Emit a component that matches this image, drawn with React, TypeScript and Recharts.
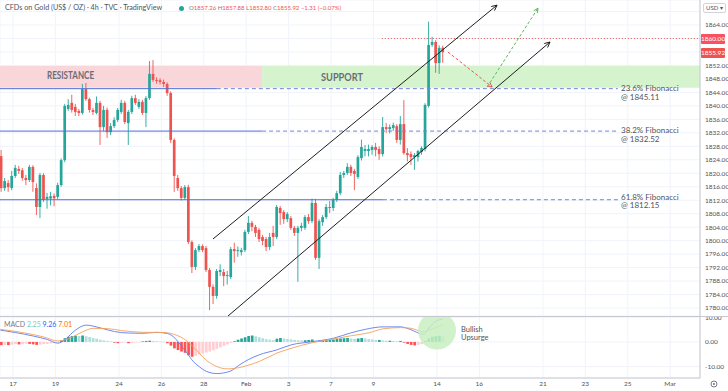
import React from 'react';
import {
  ComposedChart,
  Bar,
  Line,
  XAxis,
  YAxis,
  CartesianGrid,
  ReferenceLine,
  ReferenceArea,
  ReferenceDot,
} from 'recharts';

// bar index of the first candle (0 = first bar of Jan 17)
const FIRST_BAR = -4;

// [open, high, low, close], one per 4h bar
const candles: [number, number, number, number][] = [
  [1825.1, 1826.9, 1814.5, 1815.6], [1815.6, 1818.6, 1814.8, 1817.7], [1817.1, 1818.0, 1814.5, 1815.9],
  [1815.6, 1820.7, 1815.0, 1819.2], [1819.2, 1822.5, 1818.6, 1821.6], [1821.3, 1822.2, 1819.8, 1820.7],
  [1820.9, 1821.6, 1817.8, 1818.6], [1818.6, 1819.5, 1816.5, 1818.0], [1818.0, 1822.5, 1817.4, 1821.9],
  [1821.9, 1822.4, 1814.5, 1817.4], [1815.6, 1817.0, 1807.6, 1810.0], [1810.0, 1820.1, 1806.7, 1819.5],
  [1819.5, 1820.0, 1811.5, 1812.1], [1812.4, 1814.2, 1809.5, 1813.0], [1812.5, 1814.5, 1810.5, 1813.2],
  [1813.3, 1814.0, 1810.2, 1812.6], [1813.0, 1817.2, 1812.3, 1816.5], [1816.5, 1824.4, 1816.0, 1823.9],
  [1823.9, 1840.6, 1823.3, 1840.0], [1839.1, 1842.0, 1838.5, 1840.3], [1840.9, 1843.3, 1838.0, 1838.8],
  [1839.7, 1840.6, 1837.0, 1838.2], [1838.5, 1839.1, 1837.0, 1837.9], [1837.9, 1846.5, 1837.4, 1845.0],
  [1845.0, 1846.8, 1841.5, 1842.0], [1842.0, 1842.4, 1838.0, 1838.8], [1838.8, 1839.4, 1837.3, 1838.2],
  [1837.9, 1842.8, 1837.5, 1840.9], [1840.9, 1841.5, 1828.4, 1833.7], [1833.7, 1840.0, 1832.5, 1838.8],
  [1838.8, 1839.5, 1830.5, 1832.2], [1832.2, 1834.9, 1831.3, 1834.0], [1834.0, 1836.6, 1833.4, 1835.8],
  [1835.8, 1839.4, 1835.2, 1838.8], [1838.2, 1841.8, 1837.6, 1840.9], [1840.9, 1841.5, 1834.6, 1835.2],
  [1834.9, 1838.8, 1828.4, 1838.2], [1838.2, 1843.0, 1837.6, 1842.3], [1842.3, 1843.3, 1840.3, 1840.9],
  [1839.7, 1842.0, 1839.1, 1841.2], [1841.2, 1841.8, 1837.3, 1837.9], [1837.9, 1842.9, 1833.7, 1842.3],
  [1842.3, 1853.3, 1841.8, 1849.5], [1849.5, 1853.6, 1847.1, 1847.7], [1847.7, 1848.5, 1846.6, 1847.4],
  [1847.6, 1848.2, 1846.4, 1847.1], [1847.1, 1847.8, 1845.6, 1846.5], [1846.5, 1847.0, 1843.0, 1843.8],
  [1843.8, 1844.3, 1829.0, 1829.9], [1829.9, 1830.4, 1814.5, 1819.2], [1818.6, 1819.5, 1814.8, 1815.6],
  [1815.6, 1816.2, 1811.9, 1812.7], [1812.7, 1816.5, 1812.1, 1815.9], [1815.9, 1816.6, 1799.0, 1799.6],
  [1799.6, 1800.1, 1790.4, 1792.2], [1792.2, 1797.8, 1791.3, 1797.2], [1797.2, 1799.0, 1796.6, 1798.4],
  [1798.4, 1798.9, 1796.6, 1797.2], [1797.8, 1798.4, 1790.7, 1791.3], [1791.3, 1791.9, 1779.4, 1786.3],
  [1786.3, 1787.0, 1781.2, 1783.6], [1783.6, 1791.6, 1782.8, 1791.0], [1790.7, 1793.0, 1789.5, 1791.3],
  [1790.7, 1791.6, 1786.5, 1789.5], [1789.5, 1791.0, 1787.0, 1789.8], [1789.2, 1798.1, 1788.6, 1797.5],
  [1797.5, 1799.4, 1793.5, 1796.9], [1796.9, 1798.3, 1795.2, 1797.2], [1796.6, 1797.9, 1795.6, 1797.2],
  [1797.2, 1803.2, 1796.6, 1802.6], [1802.6, 1807.3, 1802.0, 1805.3], [1805.3, 1805.9, 1802.8, 1804.1],
  [1804.1, 1804.7, 1801.1, 1802.3], [1803.2, 1803.8, 1799.6, 1800.5], [1801.1, 1801.7, 1798.7, 1799.9],
  [1800.5, 1801.1, 1796.9, 1798.1], [1798.1, 1802.3, 1797.2, 1801.1], [1802.3, 1804.4, 1798.4, 1801.1],
  [1801.1, 1810.6, 1800.5, 1810.0], [1809.7, 1810.3, 1804.7, 1808.2], [1808.5, 1809.1, 1805.0, 1806.4],
  [1806.4, 1808.5, 1805.5, 1807.9], [1806.7, 1807.3, 1803.2, 1803.8], [1803.8, 1804.4, 1801.4, 1802.3],
  [1802.3, 1804.4, 1787.8, 1803.8], [1803.8, 1805.3, 1802.8, 1804.4], [1803.8, 1807.6, 1803.2, 1807.0],
  [1807.0, 1807.9, 1805.0, 1805.8], [1805.8, 1812.5, 1805.2, 1811.2], [1811.2, 1812.4, 1794.3, 1794.9],
  [1794.9, 1806.4, 1791.6, 1805.8], [1805.5, 1807.6, 1804.4, 1807.0], [1807.0, 1810.9, 1806.4, 1810.0],
  [1810.0, 1811.8, 1808.2, 1809.7], [1809.7, 1812.7, 1808.8, 1812.1], [1812.1, 1814.8, 1811.5, 1814.1],
  [1814.1, 1820.4, 1813.5, 1819.5], [1819.5, 1820.7, 1818.6, 1820.1], [1820.1, 1823.0, 1819.5, 1821.9],
  [1821.9, 1822.5, 1819.2, 1820.1], [1820.7, 1821.3, 1815.0, 1819.8], [1818.9, 1825.4, 1818.3, 1824.8],
  [1824.5, 1830.0, 1823.8, 1827.8], [1826.6, 1828.4, 1825.0, 1827.2], [1826.6, 1828.5, 1825.0, 1827.2],
  [1826.9, 1828.4, 1825.5, 1827.8], [1827.8, 1829.0, 1825.0, 1826.9], [1827.2, 1828.0, 1824.0, 1825.7],
  [1825.7, 1836.7, 1825.0, 1833.7], [1833.7, 1834.9, 1832.0, 1833.1], [1833.1, 1834.5, 1831.8, 1833.7],
  [1833.4, 1835.0, 1832.5, 1834.3], [1834.0, 1834.6, 1829.0, 1829.9], [1829.9, 1837.0, 1828.5, 1834.6],
  [1834.6, 1841.7, 1825.5, 1826.0], [1826.0, 1827.5, 1823.5, 1825.4], [1825.7, 1826.5, 1822.5, 1824.8],
  [1824.8, 1826.0, 1821.0, 1825.4], [1824.8, 1827.0, 1823.5, 1826.6], [1826.3, 1828.0, 1825.5, 1827.5],
  [1827.2, 1840.8, 1826.5, 1840.3], [1840.0, 1865.0, 1839.5, 1858.1], [1858.1, 1860.5, 1857.5, 1858.96],
  [1858.96, 1859.5, 1849.8, 1852.7], [1852.7, 1858.0, 1849.5, 1857.23], [1857.26, 1857.88, 1852.8, 1855.92],
];

// MACD histogram, one per bar
const macdHist = [
  -1.3, -1.2, -1.3, -1.1, -0.9, -1.0, -0.9, -0.7, -0.8, -1.0, -1.2, -1.1, -0.9, -0.8, -0.6, -0.4, -0.2,
  0.6, 1.5, 2.1, 2.4, 2.5, 2.4, 2.6, 2.3, 2.0, 1.6, 1.3, 0.9, 0.6, 0.4, 0.2, -0.3, -0.5, -0.3,
  -0.2, -0.5, -0.4, -0.2, -0.1, 0.2, 0.4, 0.5, 0.4, 0.3, 0.2, 0.1,
  -0.5, -1.5, -2.6, -3.3, -3.9, -4.4, -5.4, -6.0,
  -5.6, -5.1, -4.7, -4.3, -3.9, -3.4, -2.8, -2.2, -1.6, -1.0, -0.4,
  0.3, 0.9, 1.4, 1.9, 2.4, 2.6, 2.3, 1.9, 1.5, 1.1, 0.9, 0.7,
  1.3, 1.6, 1.4, 1.2, 1.0, 0.8, 0.7, 0.6, 0.7, 0.8, 1.0, 0.4, 0.5, 0.6, 0.7, 0.8, 1.0,
  1.2, 1.4, 1.5, 1.6, 1.4, 1.2, 1.4, 1.6, 1.4, 1.2, 1.0, 0.8,
  0.8, 0.6, 0.5, 0.5, 0.4, 0.3, 0.4,
  -0.3, -0.8, -1.2, -1.4, -1.2, -0.9,
  0.4, 1.4, 2.1, 2.4, 2.5, 2.25,
];

// [bar, value]
const macdLine: [number, number][] = [
  [-4.3, 4.8], [0, 3.8], [5, 2.4], [9, 1.0], [12, -0.5], [14, 0.9], [16, 3.6], [18, 5.8], [20, 6.8],
  [22, 6.4], [24, 5.7], [28, 4.2], [32, 3.6], [36, 3.5], [40, 3.9], [43, 3.4], [44.7, 2.1], [46.5, -0.8],
  [48.5, -4.4], [50.3, -7.9], [52, -10.0], [54, -11.9], [57, -12.8], [60.7, -11.9], [63.5, -9.2],
  [66, -7.1], [69, -5.2], [74, -3.2], [78, -1.2], [84, 0.1], [90, 1.5], [95, 3.7], [99, 5.1],
  [104, 6.1], [109, 6.1], [111.7, 5.1], [115.4, 3.1], [117.3, 6.1], [119.2, 8.5], [121, 9.26],
];
const signalLine: [number, number][] = [
  [-4.3, 5.1], [2, 3.8], [8, 2.0], [12, 0.4], [15, 1.3], [18, 3.4], [22, 5.5], [26, 5.4], [30, 4.6],
  [36, 3.9], [42, 3.8], [45, 3.0], [47.5, 1.4], [50, -1.5], [54, -7.4], [57, -10.0], [60, -10.9],
  [62, -10.7], [65, -9.8], [69, -7.9], [74, -4.5], [78, -2.6], [84, -0.3], [90, 1.2], [95, 2.5],
  [100, 3.7], [104, 5.3], [109, 5.8], [112, 5.5], [115.4, 4.1], [118, 5.3], [121, 7.01],
];

// trading-day offset from Jan 17 and its label
const dateTicks: [number, string][] = [
  [0, '17'], [2, '19'], [5, '24'], [7, '26'], [9, '28'], [11, 'Feb'], [13, '3'], [15, '7'],
  [17, '9'], [20, '14'], [22, '16'], [25, '21'], [27, '23'], [29, '25'], [31, 'Mar'],
];
const priceTicks = [
  1780, 1784, 1788, 1792, 1796, 1800, 1804, 1808, 1812, 1816, 1820, 1824, 1828, 1832, 1836, 1840,
  1844, 1848, 1852, 1856, 1860, 1864, 1868,
];
// ticks whose label sits under the price boxes
const coveredTicks = [1856, 1860, 1868];
const fibLevels = [
  { price: 1845.11, name: '23.6% Fibonacci', solidTo: 57 },
  { price: 1832.52, name: '38.2% Fibonacci', solidTo: 69.8 },
  { price: 1812.15, name: '61.8% Fibonacci', solidTo: 104 },
];

const X_MIN = -4.387;
const X_MAX = 193.75;
const FIB_END = 170.5;
const P_MIN = 1777.65;
const P_MAX = 1871.42;
const PX_PER_BAR = 700 / (X_MAX - X_MIN);
const PX_PER_USD = 316 / (P_MAX - P_MIN);
const UP = '#26a69a';
const DOWN = '#ef5350';
const FONT = "Lato, 'Open Sans', sans-serif";
const TEXT = '#50535e';

type Pt = { x: number; y: number };
const channelUpper: [Pt, Pt] = [{ x: 55.9, y: 1800.5 }, { x: 136.3, y: 1869.9 }];
const channelLower: [Pt, Pt] = [{ x: 60.15, y: 1777.65 }, { x: 151.3, y: 1858.96 }];
const pathDown: [Pt, Pt] = [{ x: 122.4, y: 1856.0 }, { x: 134.9, y: 1845.6 }];
const pathUp: [Pt, Pt] = [{ x: 133.5, y: 1845.6 }, { x: 147.9, y: 1869.0 }];

function arrowWings(seg: [Pt, Pt], len = 6, spread = 0.45): [Pt, Pt][] {
  const [a, b] = seg;
  const ang = Math.atan2((b.y - a.y) * PX_PER_USD, (b.x - a.x) * PX_PER_BAR);
  return [ang + spread, ang - spread].map((t) => [
    b,
    { x: b.x - (len * Math.cos(t)) / PX_PER_BAR, y: b.y - (len * Math.sin(t)) / PX_PER_USD },
  ]);
}

const candleData = candles.map(([o, h, l, c], k) => ({ i: FIRST_BAR + k, o, h, l, c, range: [l, h] }));
const histData = macdHist.map((v, k) => ({ i: FIRST_BAR + k, v }));
const histColor = (k: number) => {
  const v = macdHist[k];
  const prev = k > 0 ? macdHist[k - 1] : v;
  if (v >= 0) return v >= prev ? '#26a69a' : '#b2dfdb';
  return v <= prev ? '#ff5252' : '#ffcdd2';
};
const macdPts = macdLine.map(([i, v]) => ({ i, v }));
const signalPts = signalLine.map(([i, v]) => ({ i, v }));
const tickVals = dateTicks.map(([d]) => d * 6 - 0.7);
const tickLabel = (v: number) => {
  const t = dateTicks.find(([d]) => Math.abs(d * 6 - 0.7 - v) < 0.01);
  return t ? t[1] : '';
};

const Candle = (props: any) => {
  const { x, y, width, height, payload } = props;
  if (x == null || y == null) return null;
  const top = Math.min(y, y + height);
  const span = Math.abs(height);
  const k = payload.h - payload.l > 0 ? span / (payload.h - payload.l) : 0;
  const cx = x + width / 2;
  const color = payload.c >= payload.o ? UP : DOWN;
  const bTop = top + (payload.h - Math.max(payload.o, payload.c)) * k;
  const bH = Math.max(0.8, Math.abs(payload.o - payload.c) * k);
  return (
    <g>
      <line x1={cx} x2={cx} y1={top} y2={top + span} stroke={color} strokeWidth={0.9} />
      <rect x={cx - 1.35} y={bTop} width={2.7} height={bH} fill={color} />
    </g>
  );
};

const HistBar = (props: any) => {
  const { x, y, width, height, payload } = props;
  if (x == null || y == null) return null;
  return (
    <rect
      x={x + width / 2 - 1.35}
      y={Math.min(y, y + height)}
      width={2.7}
      height={Math.max(0.6, Math.abs(height))}
      fill={histColor(payload.i - FIRST_BAR)}
    />
  );
};

const seg = (s: [Pt, Pt], stroke: string, dash?: string, key?: string) => (
  <ReferenceLine
    key={key}
    segment={s}
    stroke={stroke}
    strokeWidth={1}
    strokeDasharray={dash}
    ifOverflow="visible"
  />
);

const abs = (left: number, top: number, extra: React.CSSProperties = {}): React.CSSProperties => ({
  position: 'absolute',
  left,
  top,
  whiteSpace: 'nowrap',
  lineHeight: 1,
  ...extra,
});

const zoneLabel = (squeeze: number): React.CSSProperties => ({
  fontSize: 11.5,
  fontWeight: 700,
  color: '#6a6d78',
  transform: `scaleX(${squeeze})`,
  transformOrigin: 'left center',
});

export default function App() {
  return (
    <div
      style={{
        position: 'absolute',
        left: 0,
        top: 0,
        width: 728,
        height: 391,
        overflow: 'hidden',
        background: '#fff',
        fontFamily: FONT,
      }}
    >
      <ComposedChart width={728} height={316} data={candleData} margin={{ top: 0, right: 0, bottom: 0, left: 0 }}>
        <CartesianGrid stroke="#f0f3fa" />
        <XAxis type="number" dataKey="i" domain={[X_MIN, X_MAX]} ticks={tickVals} allowDataOverflow hide />
        <YAxis
          orientation="right"
          width={28}
          domain={[P_MIN, P_MAX]}
          ticks={priceTicks}
          interval={0}
          allowDataOverflow
          tickLine={false}
          tickSize={4}
          tickMargin={1}
          axisLine={{ stroke: '#c5c8d0' }}
          tick={{ fontSize: 6.5, fill: TEXT, fontFamily: FONT }}
          tickFormatter={(v: number) => (coveredTicks.includes(v) ? '' : v.toFixed(2))}
        />
        <ReferenceArea x1={X_MIN} x2={69.8} y1={1845.4} y2={1851.8} fill="#f9d6d9" fillOpacity={1} stroke="none" ifOverflow="visible" />
        <ReferenceArea x1={69.8} x2={X_MAX} y1={1845.4} y2={1851.8} fill="#d5f3cc" fillOpacity={1} stroke="none" ifOverflow="visible" />
        {fibLevels.map((f) => seg([{ x: X_MIN, y: f.price }, { x: f.solidTo, y: f.price }], '#4f6fd6', undefined, f.name + 's'))}
        {fibLevels.map((f) => seg([{ x: f.solidTo, y: f.price }, { x: FIB_END, y: f.price }], '#6f84db', '4 3', f.name + 'd'))}
        {seg([{ x: 103.7, y: 1860 }, { x: X_MAX, y: 1860 }], '#ef5350', '1 2', 'dot1860')}
        <Bar dataKey="range" barSize={3} isAnimationActive={false} shape={Candle} />
        {seg(channelUpper, '#1e1e1e', undefined, 'cu')}
        {arrowWings(channelUpper).map((w, k) => seg(w, '#1e1e1e', undefined, 'cuw' + k))}
        {seg(channelLower, '#1e1e1e', undefined, 'cl')}
        {arrowWings(channelLower).map((w, k) => seg(w, '#1e1e1e', undefined, 'clw' + k))}
        {seg(pathDown, '#ef5350', '3 2', 'pd')}
        {arrowWings(pathDown, 5).map((w, k) => seg(w, '#ef5350', undefined, 'pdw' + k))}
        {seg(pathUp, '#5fb760', '3 2', 'pu')}
        {arrowWings(pathUp, 5).map((w, k) => seg(w, '#5fb760', undefined, 'puw' + k))}
      </ComposedChart>

      <ComposedChart width={728} height={75} data={histData} margin={{ top: 0, right: 0, bottom: 0, left: 0 }}>
        <CartesianGrid stroke="#f0f3fa" />
        <XAxis
          type="number"
          dataKey="i"
          domain={[X_MIN, X_MAX]}
          ticks={tickVals}
          interval={0}
          allowDataOverflow
          height={13}
          tickLine={false}
          tickSize={2}
          tickMargin={1}
          axisLine={{ stroke: '#c5c8d0' }}
          tick={{ fontSize: 6.5, fill: TEXT, fontFamily: FONT }}
          tickFormatter={tickLabel}
        />
        <YAxis
          orientation="right"
          width={28}
          domain={[-14.6, 10.5]}
          ticks={[-10, 0, 10]}
          interval={0}
          allowDataOverflow
          tickLine={false}
          tickSize={4}
          tickMargin={1}
          axisLine={{ stroke: '#c5c8d0' }}
          tick={{ fontSize: 6.5, fill: TEXT, fontFamily: FONT }}
          tickFormatter={(v: number) => v.toFixed(2)}
        />
        <ReferenceDot x={119.3} y={4.6} r={19} fill="#c8efbf" fillOpacity={0.85} stroke="none" ifOverflow="visible" />
        <Bar dataKey="v" barSize={3} isAnimationActive={false} shape={HistBar} />
        <Line data={macdPts} dataKey="v" type="monotone" stroke="#5b7cf0" strokeWidth={0.9} dot={false} isAnimationActive={false} />
        <Line data={signalPts} dataKey="v" type="monotone" stroke="#f5a05a" strokeWidth={0.9} dot={false} isAnimationActive={false} />
      </ComposedChart>

      <div style={{ position: 'absolute', left: 0, top: 315.5, width: 728, height: 1, background: '#c5c8d0' }} />

      <div style={abs(5, 4, { fontSize: 7.2, color: TEXT })}>CFDs on Gold (US$ / OZ) · 4h · TVC · TradingView</div>
      <div style={{ position: 'absolute', left: 178.5, top: 5.5, width: 5, height: 5, borderRadius: 3, background: UP }} />
      <div style={abs(189, 4.5, { fontSize: 6, color: DOWN })}>
        <span style={{ color: '#787b86' }}>O</span>1857.26 <span style={{ color: '#787b86' }}>H</span>1857.88{' '}
        <span style={{ color: '#787b86' }}>L</span>1852.80 <span style={{ color: '#787b86' }}>C</span>1855.92 −1.31 (−0.07%)
      </div>

      <div style={abs(47, 68.5, zoneLabel(0.7))}>RESISTANCE</div>
      <div style={abs(321, 70.5, zoneLabel(0.8))}>SUPPORT</div>

      {fibLevels.map((f, k) => {
        const top = [84.3, 126.3, 192.8][k];
        return (
          <div key={f.name} style={abs(621, top, { fontSize: 8, color: TEXT, lineHeight: '8.5px' })}>
            {f.name}
            <br />@ {f.price.toFixed(2)}
          </div>
        );
      })}

      <div style={abs(4, 320.5, { fontSize: 7, color: '#787b86' })}>
        MACD <span style={{ color: '#80cbc4' }}>2.25</span> <span style={{ color: '#2962ff' }}>9.26</span>{' '}
        <span style={{ color: '#ff6d00' }}>7.01</span>
      </div>
      <div style={abs(461, 326, { fontSize: 7.5, color: TEXT, lineHeight: '8px' })}>
        Bullish
        <br />
        Upsurge
      </div>

      <div style={abs(703, 2.5, { fontSize: 6, color: TEXT, border: '1px solid #d1d4dc', borderRadius: 2, padding: '1px 2px', background: '#fff' })}>USD ▾</div>
      <div style={abs(701, 34, { width: 24, height: 10, background: '#f7525f', color: '#fff', fontSize: 6.5, lineHeight: '10px', textAlign: 'center', borderRadius: 1 })}>1860.00</div>
      <div style={abs(701, 47.5, { width: 24, height: 10, background: '#ef5350', color: '#fff', fontSize: 6.5, lineHeight: '10px', textAlign: 'center', borderRadius: 1 })}>1855.92</div>

      <svg style={{ position: 'absolute', left: 709, top: 379 }} width={10} height={10}>
        <circle cx={5} cy={5} r={3} fill="none" stroke="#787b86" strokeWidth={1} />
        <circle cx={5} cy={5} r={1} fill="#787b86" />
      </svg>
    </div>
  );
}
